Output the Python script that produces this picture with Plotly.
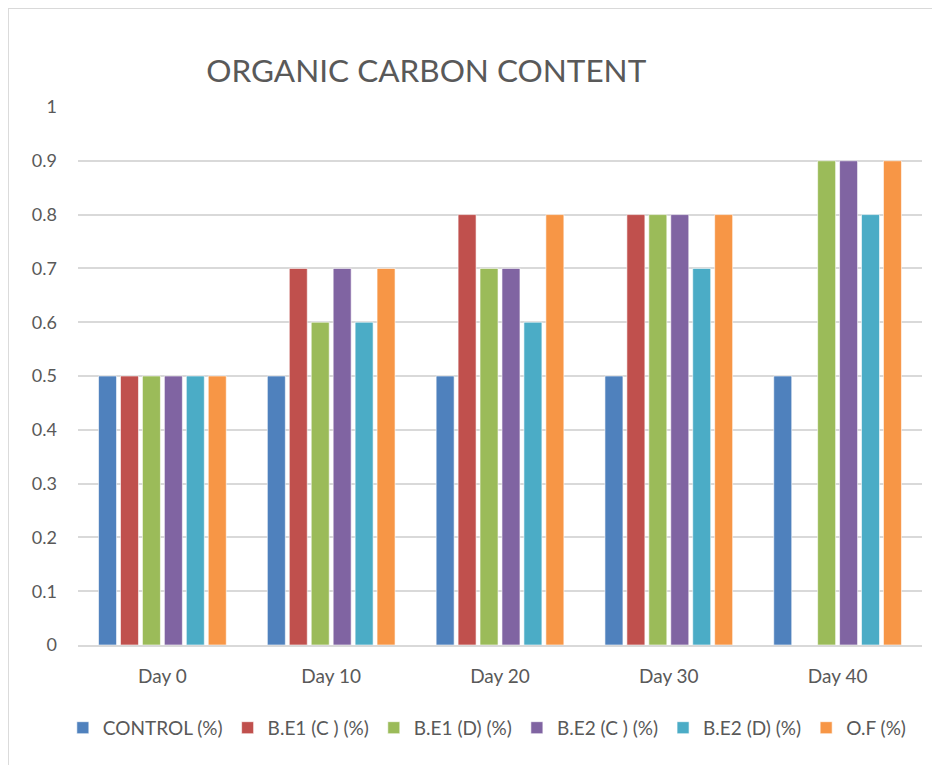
import plotly.graph_objects as go

categories = ["Day 0", "Day 10", "Day 20", "Day 30", "Day 40"]
series_names = ["CONTROL (%)", "B.E1 (C ) (%)", "B.E1 (D) (%)", "B.E2 (C ) (%)", "B.E2 (D) (%)", "O.F (%)"]
control = [0.5, 0.5, 0.5, 0.5, 0.5]
be1_c = [0.5, 0.7, 0.8, 0.8, 0]
be1_d = [0.5, 0.6, 0.7, 0.8, 0.9]
be2_c = [0.5, 0.7, 0.7, 0.8, 0.9]
be2_d = [0.5, 0.6, 0.6, 0.7, 0.8]
of_vals = [0.5, 0.7, 0.8, 0.8, 0.9]
colors = ["#4F81BD", "#C0504D", "#9BBB59", "#8064A2", "#4BACC6", "#F79646"]
y_ticks = [0, 0.1, 0.2, 0.3, 0.4, 0.5, 0.6, 0.7, 0.8, 0.9, 1]
y_tick_text = ["0", "0.1", "0.2", "0.3", "0.4", "0.5", "0.6", "0.7", "0.8", "0.9", "1"]

all_series = [control, be1_c, be1_d, be2_c, be2_d, of_vals]

fig = go.Figure()
for name, vals, col in zip(series_names, all_series, colors):
    fig.add_trace(go.Bar(
        x=categories, y=vals, name=name,
        marker=dict(color=col, line=dict(color="white", width=0.6)),
    ))

font_family = "Lato, Open Sans, sans-serif"

fig.update_layout(
    width=940, height=765,
    margin=dict(l=70, r=26, t=99, b=128),
    paper_bgcolor="white", plot_bgcolor="white",
    barmode="group", bargap=0.22, bargroupgap=0.18,
    title=dict(text="ORGANIC CARBON CONTENT", x=0.445, xanchor="center", xref="container",
               y=0.918, yanchor="middle",
               font=dict(family="Lato, DejaVu Sans Condensed, sans-serif", size=31.5, color="#595959")),
    font=dict(family=font_family, color="#595959"),
    showlegend=True,
    legend=dict(orientation="h", x=0.485, xanchor="center", y=-0.154, yanchor="middle",
                font=dict(size=19, color="#595959"), itemwidth=30, tracegroupgap=0,
                traceorder="normal"),
    xaxis=dict(showgrid=False, showline=True, linecolor="#D9D9D9", linewidth=1.5,
               ticks="", tickfont=dict(size=19, color="#595959"), automargin=False,
               ticklabelstandoff=13),
    yaxis=dict(range=[0, 1], tickvals=y_ticks, ticktext=y_tick_text,
               showgrid=True, gridcolor="#D9D9D9", gridwidth=1.5,
               zeroline=False, showline=False, ticks="", ticklen=0, automargin=False,
               tickfont=dict(size=18, color="#595959"), ticklabelstandoff=20),
    shapes=[
        dict(type="line", xref="paper", yref="paper", x0=-0.083, x1=-0.083, y0=-0.25, y1=1.184,
             line=dict(color="#D9D9D9", width=2)),
        dict(type="line", xref="paper", yref="paper", x0=-0.083, x1=1.04, y0=1.184, y1=1.184,
             line=dict(color="#D9D9D9", width=2)),
    ],
)

fig.write_html("out.html")
